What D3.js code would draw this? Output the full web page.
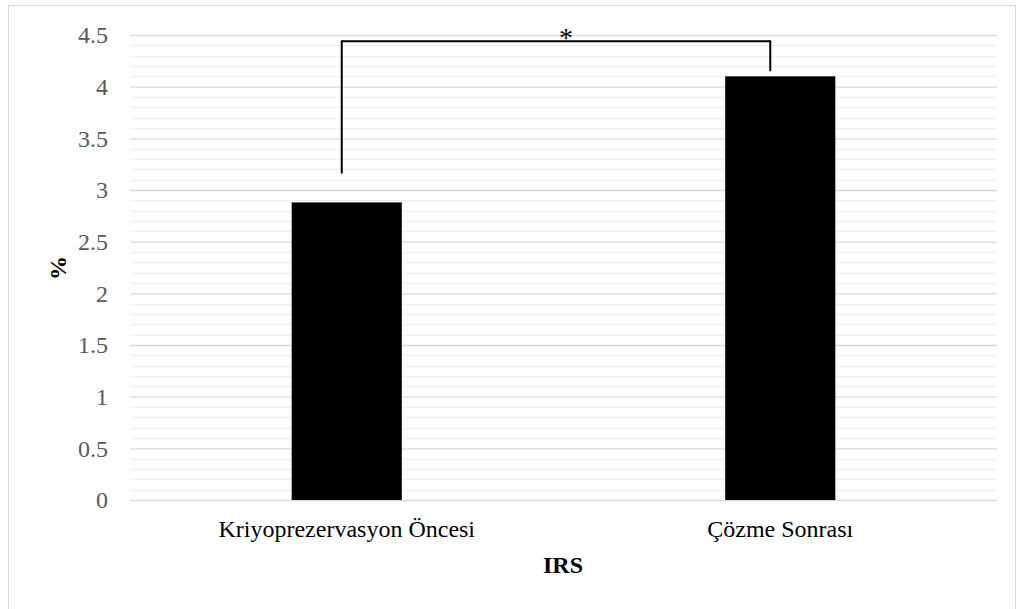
<!DOCTYPE html>
<html>
<head>
<meta charset="utf-8">
<script src="https://cdn.jsdelivr.net/npm/d3@7"></script>
<style>
  body { margin: 0; background: #fff; }
  svg { display: block; }
  text { font-family: "Liberation Serif", "Times New Roman", Times, serif; }
</style>
</head>
<body>
<div id="chart"></div>
<script>
// data
var categories = ["Kriyoprezervasyon Öncesi", "Çözme Sonrası"];
var values = [2.88, 4.1];
var yTicks = [0, 0.5, 1, 1.5, 2, 2.5, 3, 3.5, 4, 4.5];
var yMinorStep = 0.1;
var bracketLegs = [3.16, 4.15];   // bottom of each bracket leg
var bracketTop = 4.44;
var sigLabel = "*";
var xTitle = "IRS";
var yTitle = "%";

var W = 1021, H = 609;
var margin = {top: 35, right: 24, bottom: 109, left: 130},
    width = 997 - margin.left,
    height = 500 - margin.top;
var serif = '"Liberation Serif", "Times New Roman", Times, serif';

var svg = d3.select("#chart").append("svg")
  .attr("width", W)
  .attr("height", H);

// outer frame
svg.append("rect")
  .attr("x", 8.5).attr("y", 5.5)
  .attr("width", 1007).attr("height", 620)
  .style("fill", "none")
  .style("stroke", "#d9d9d9");

var g = svg.append("g")
  .attr("transform", "translate(" + margin.left + "," + margin.top + ")");

var xScale = d3.scaleBand()
  .domain(categories)
  .range([0, width])
  .paddingInner(0.746)
  .paddingOuter(0.373);

var yScale = d3.scaleLinear()
  .domain([0, 4.5])
  .range([height, 0]);

// minor gridlines
var minor = d3.range(0, 4.5 + 1e-9, yMinorStep).filter(function(v) {
  return Math.abs(v * 2 - Math.round(v * 2)) > 1e-6;
});
g.append("g").selectAll("line")
  .data(minor).enter()
  .append("line")
  .attr("x1", 0).attr("x2", width)
  .attr("y1", function(d) { return Math.round(yScale(d)) + 0.5; })
  .attr("y2", function(d) { return Math.round(yScale(d)) + 0.5; })
  .style("stroke", "#f0f0f0")
  .style("stroke-width", 1.3);

// major gridlines + ticks
var yAxis = d3.axisLeft(yScale)
  .tickValues(yTicks)
  .tickSize(-width)
  .tickPadding(22)
  .tickFormat(function(d) { return d; });

var ya = g.append("g").call(yAxis);
ya.attr("font-family", null).attr("font-size", null);
ya.select(".domain").remove();
ya.selectAll(".tick line")
  .style("stroke", "#d9d9d9")
  .style("stroke-width", 1.3);
ya.selectAll(".tick text")
  .style("font-family", serif)
  .style("font-size", "24px")
  .style("fill", "#595959");

// bars
g.append("g").selectAll("rect")
  .data(values).enter()
  .append("rect")
  .attr("x", function(d, i) { return xScale(categories[i]); })
  .attr("y", function(d) { return yScale(d); })
  .attr("width", xScale.bandwidth())
  .attr("height", function(d) { return height - yScale(d); })
  .style("fill", "#000000");

// x labels
var xAxis = d3.axisBottom(xScale).tickSize(0).tickPadding(20);
var xa = g.append("g")
  .attr("transform", "translate(0," + height + ")")
  .call(xAxis);
xa.attr("font-family", null).attr("font-size", null);
xa.select(".domain").remove();
xa.selectAll(".tick text")
  .style("font-family", serif)
  .style("font-size", "24px")
  .style("fill", "#000");

// significance bracket
var bx = categories.map(function(c, i) {
  return xScale(c) + xScale.bandwidth() / 2 - (i === 0 ? 5 : 10);
});
var bline = d3.line()
  .x(function(d) { return d[0]; })
  .y(function(d) { return yScale(d[1]); });
g.append("path")
  .attr("d", bline([[bx[0], bracketLegs[0]], [bx[0], bracketTop], [bx[1], bracketTop], [bx[1], bracketLegs[1]]]))
  .style("fill", "none")
  .style("stroke", "#000")
  .style("stroke-width", 2);

g.append("text")
  .attr("x", (bx[0] + bx[1]) / 2 + 10)
  .attr("y", yScale(bracketTop) + 6)
  .attr("text-anchor", "middle")
  .style("font-family", serif)
  .style("font-size", "28px")
  .text(sigLabel);

// axis titles
svg.append("text")
  .attr("x", 563)
  .attr("y", 573)
  .attr("text-anchor", "middle")
  .style("font-family", serif)
  .style("font-size", "24px")
  .style("font-weight", "bold")
  .text(xTitle);

svg.append("text")
  .attr("transform", "translate(66,268) rotate(-90)")
  .attr("text-anchor", "middle")
  .style("font-family", serif)
  .style("font-size", "24px")
  .style("font-weight", "bold")
  .text(yTitle);
</script>
</body>
</html>
